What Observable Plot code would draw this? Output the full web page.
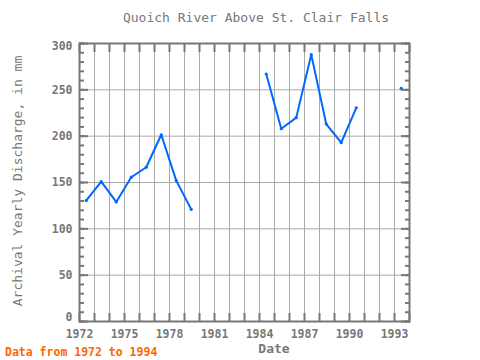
<!DOCTYPE html>
<html>
<head>
<meta charset="utf-8">
<script src="https://cdn.jsdelivr.net/npm/d3@7"></script>
<script src="https://cdn.jsdelivr.net/npm/@observablehq/plot@0.6"></script>
<style>
  html, body { margin: 0; padding: 0; background: #fff; }
  svg { display: block; }
</style>
</head>
<body>
<div id="chart"></div>
<script>
const years = [1972,1973,1974,1975,1976,1977,1978,1979,1980,1981,1982,1983,1984,1985,1986,1987,1988,1989,1990,1991,1992,1993];
const discharge = [130.6,151,129,155.7,166.5,201.5,152,121,null,null,null,null,267,208,220,288,213,193,230.6,null,null,251.7];
const xTickYears = [1972,1975,1978,1981,1984,1987,1990,1993];
const yTicks = [0,50,100,150,200,250,300];
const yMinorTicks = d3.range(0, 301, 10);
const allYears = d3.range(1972, 1995);
const title = "Quoich River Above St. Clair Falls";
const xLabel = "Date";
const yLabel = "Archival Yearly Discharge, in mm";
const note = "Data from 1972 to 1994";
const midYear = 0.45;

const data = years.map((y, i) => ({year: y, value: discharge[i]}));
const pts = data.filter(d => d.value != null);

const font = "DejaVu Sans Mono, monospace";
const gray = "#777";
const blue = "#0066ff";

const yLabelAxis = (ticks, dy) => Plot.axisY({anchor: "left", ticks, tickSize: 0, tickPadding: 7, dy,
  tickFormat: d => String(d), fill: gray, fontSize: 11.5, fontWeight: "bold", label: null});

const svg = Plot.plot({
  width: 480,
  height: 360,
  marginLeft: 79,
  marginRight: 71,
  marginTop: 43,
  marginBottom: 39,
  style: {fontFamily: font, background: "#fff"},
  x: {domain: [1972, 1994]},
  y: {domain: [0, 300]},
  marks: [
    Plot.gridX({ticks: allYears, stroke: "#aaa", strokeOpacity: 1, strokeWidth: 1}),
    Plot.gridY({ticks: yTicks, stroke: "#aaa", strokeOpacity: 1, strokeWidth: 1}),
    Plot.axisX({anchor: "bottom", ticks: allYears, tickSize: -8, fill: "none", stroke: gray, strokeWidth: 2, label: null}),
    Plot.axisX({anchor: "top", ticks: allYears, tickSize: -8, fill: "none", stroke: gray, strokeWidth: 2, label: null}),
    Plot.axisY({anchor: "left", ticks: yMinorTicks, tickSize: -5, fill: "none", stroke: gray, strokeWidth: 2, label: null}),
    Plot.axisY({anchor: "right", ticks: yMinorTicks, tickSize: -5, fill: "none", stroke: gray, strokeWidth: 2, label: null}),
    Plot.axisY({anchor: "left", ticks: yTicks, tickSize: -9, fill: "none", stroke: gray, strokeWidth: 2, label: null}),
    Plot.axisY({anchor: "right", ticks: yTicks, tickSize: -9, fill: "none", stroke: gray, strokeWidth: 2, label: null}),
    Plot.axisX({anchor: "bottom", ticks: xTickYears, tickSize: 0, tickPadding: 8, tickFormat: d => String(d),
      fill: gray, fontSize: 11.5, fontWeight: "bold", label: null}),
    yLabelAxis(yTicks.slice(1, -1), 0),
    yLabelAxis([yTicks[yTicks.length - 1]], 3),
    yLabelAxis([yTicks[0]], -4),
    Plot.frame({stroke: gray, strokeWidth: 2}),
    Plot.line(data, {x: d => d.year + midYear, y: d => d.value, stroke: blue, strokeWidth: 2}),
    Plot.dot(pts, {x: d => d.year + midYear, y: "value", r: 1.6, fill: blue, stroke: "none"})
  ]
});

const s = d3.select(svg);
s.append("text").text(title)
  .attr("x", 256).attr("y", 22).attr("text-anchor", "middle")
  .attr("font-family", font).attr("font-size", 13).attr("fill", gray);
s.append("text").text(xLabel)
  .attr("x", 274).attr("y", 353).attr("text-anchor", "middle")
  .attr("font-family", font).attr("font-size", 13).attr("font-weight", "bold").attr("fill", gray);
s.append("text").text(yLabel)
  .attr("transform", "translate(22,181) rotate(-90)").attr("text-anchor", "middle")
  .attr("font-family", font).attr("font-size", 13).attr("fill", gray);
s.append("text").text(note)
  .attr("x", 5).attr("y", 356).attr("text-anchor", "start")
  .attr("font-family", font).attr("font-size", 11.5).attr("font-weight", "bold").attr("fill", "#ff6600");

document.getElementById("chart").appendChild(svg);
</script>
</body>
</html>
